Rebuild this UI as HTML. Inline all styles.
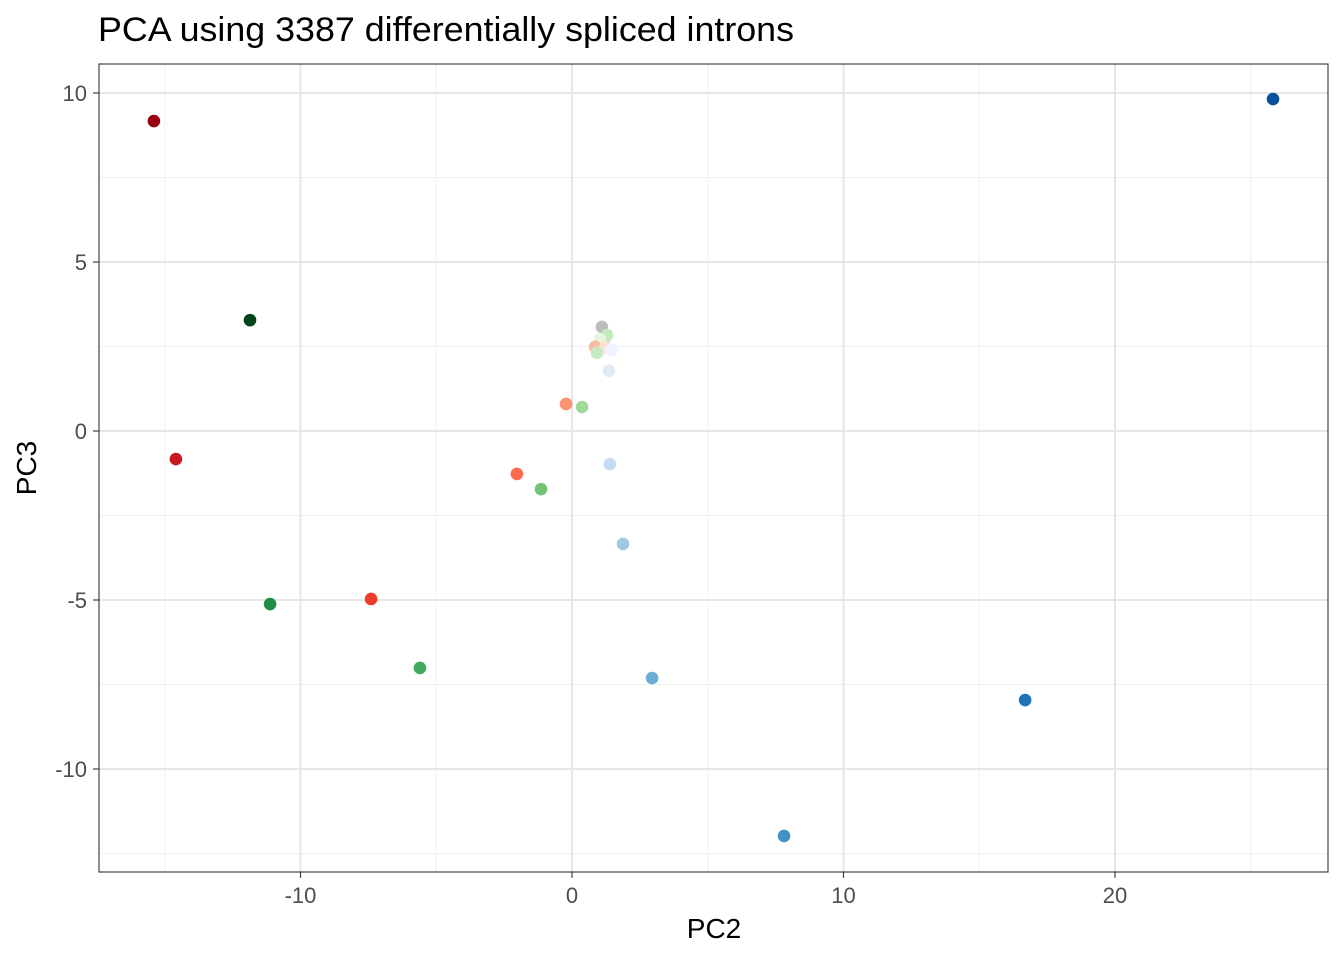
<!DOCTYPE html>
<html><head><meta charset="utf-8"><style>
body{margin:0;background:#fff;font-family:"Liberation Sans",sans-serif}
svg text{font-family:"Liberation Sans",sans-serif}
</style></head><body>
<svg width="1344" height="960">
<text x="98" y="41" font-size="34" textLength="696" lengthAdjust="spacingAndGlyphs" fill="#000">PCA using 3387 differentially spliced introns</text>
<g id="grid"></g>
<g id="pts"></g>
<rect x="99" y="64" width="1229" height="808" fill="none" stroke="#333" stroke-width="1.1"/>
<g id="axes"></g>
<text x="714" y="938" font-size="28" text-anchor="middle">PC2</text>
<text transform="translate(36,468) rotate(-90)" font-size="28" text-anchor="middle">PC3</text>
</svg>
<script>
const xTicks=[-10,0,10,20];
const yTicks=[10,5,0,-5,-10];
const xMinor=[-15,-5,5,15,25];
const yMinor=[7.5,2.5,-2.5,-7.5,-12.5];
const pc2=[-15.4,-11.86,-14.59,-11.12,-7.40,-5.60,-2.03,-1.14,-0.22,0.37,1.40,1.88,2.95,7.81,16.69,25.82,1.10,1.18,1.29,1.03,0.85,1.22,0.92,1.44,1.36];
const pc3=[9.17,3.28,-0.83,-5.12,-4.97,-7.01,-1.27,-1.72,0.80,0.71,-0.98,-3.34,-7.31,-11.98,-7.96,9.82,3.08,2.69,2.84,2.72,2.49,2.46,2.31,2.40,1.78];
const colors=["#99000d","#00441b","#cb181d","#238b45","#ef3b2c","#41ab5d","#fb6a4a","#74c476","#fc9272","#a1d99b","#c6dbef","#9ecae1","#6baed6","#4292c6","#2171b5","#08519c","#bdbdbd","#d9d9d9","#c7e9c0","#e5f5e0","#fcbba1","#fee0d2","#c7e9c0","#eff3ff","#deebf7"];
const X=v=>572+v*27.15, Y=v=>431-v*33.8;
const NS="http://www.w3.org/2000/svg";
const g=document.getElementById('grid'),p=document.getElementById('pts'),a=document.getElementById('axes');
function ln(par,x1,y1,x2,y2,c,w){const l=document.createElementNS(NS,'line');l.setAttribute('x1',x1);l.setAttribute('y1',y1);l.setAttribute('x2',x2);l.setAttribute('y2',y2);l.setAttribute('stroke',c);l.setAttribute('stroke-width',w);par.appendChild(l);return l;}
xMinor.forEach(v=>{const l=ln(g,X(v),64,X(v),872,'#f0f0f0',1);

});
yMinor.forEach(v=>{if(Y(v)<872){const l=ln(g,99,Y(v),1328,Y(v),'#f0f0f0',1);

}});
xTicks.forEach(v=>{const l=ln(g,X(v),64,X(v),872,'#e6e6e6',2);


ln(a,X(v),872,X(v),878,'#333',1.1);
const t=document.createElementNS(NS,'text');t.setAttribute('x',X(v));t.setAttribute('y',903);t.setAttribute('font-size','22');t.setAttribute('fill','#4d4d4d');t.setAttribute('text-anchor','middle');t.textContent=v;


a.appendChild(t);});
yTicks.forEach(v=>{const l=ln(g,99,Y(v),1328,Y(v),'#e6e6e6',2);


ln(a,93,Y(v),99,Y(v),'#333',1.1);
const t=document.createElementNS(NS,'text');t.setAttribute('x',87);t.setAttribute('y',Y(v)+8);t.setAttribute('font-size','22');t.setAttribute('fill','#4d4d4d');t.setAttribute('text-anchor','end');t.textContent=v;


a.appendChild(t);});
pc2.forEach((v,i)=>{const c=document.createElementNS(NS,'circle');c.setAttribute('cx',X(v));c.setAttribute('cy',Y(pc3[i]));c.setAttribute('r',6.3);c.setAttribute('fill',colors[i]);


p.appendChild(c);});
</script>
</body></html>
